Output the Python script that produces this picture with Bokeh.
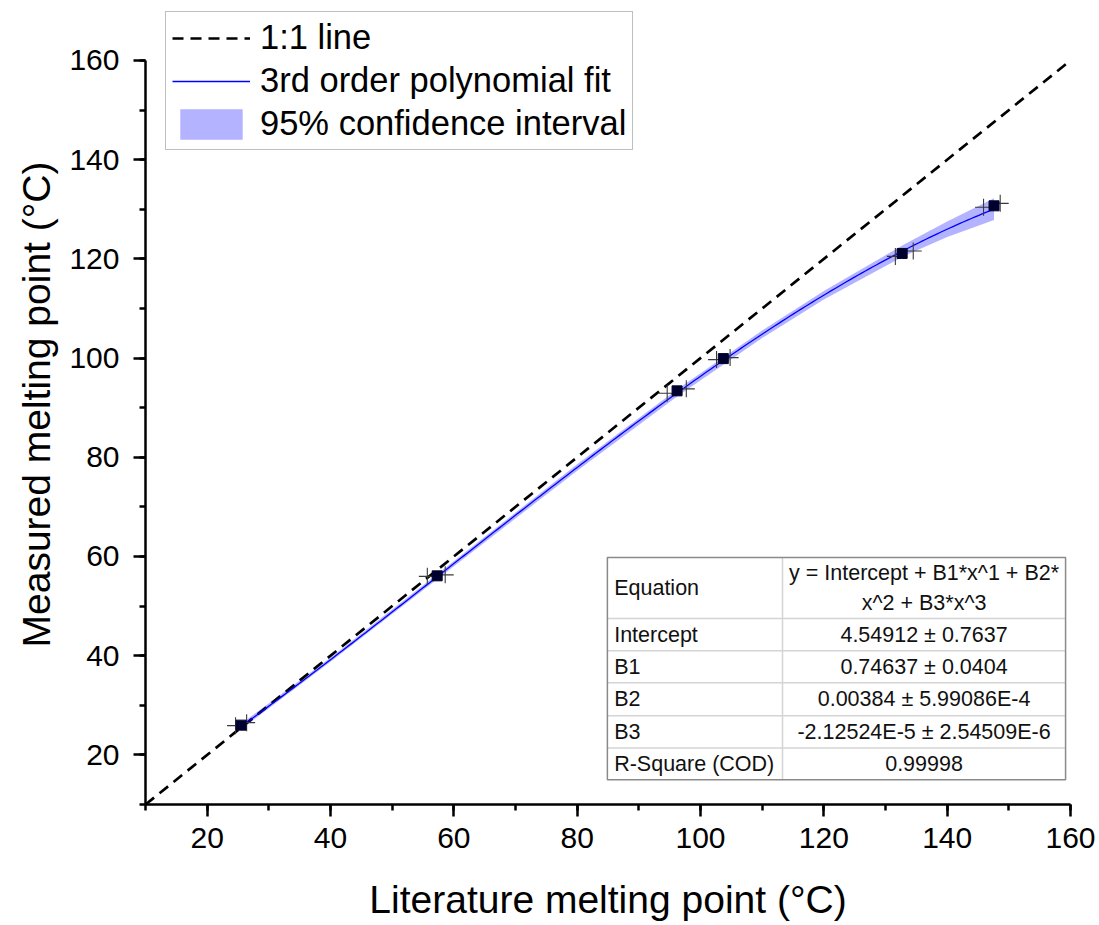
import numpy as np
from bokeh.plotting import figure
from bokeh.models import Legend, LegendItem, Label, Range1d, SingleIntervalTicker
from bokeh.embed import file_html
from bokeh.resources import INLINE

# Melting points: literature vs. measured (°C)
lit_mp = [25.5, 57.3, 96.2, 103.7, 132.7, 147.6]
meas_mp = [26.0, 56.1, 93.4, 99.9, 121.1, 130.7]
# ranges of the individual readings
lit_low = [24.6, 55.7, 94.6, 102.6, 131.6, 145.9]
lit_high = [26.4, 58.6, 97.7, 104.8, 134.5, 148.6]
meas_low = [25.9, 56.0, 92.9, 99.7, 120.5, 130.4]
meas_high = [26.5, 56.3, 93.8, 100.1, 121.6, 131.2]

# 3rd order polynomial fit parameters
fit_names = ["Intercept", "B1", "B2", "B3"]
fit_coef = [4.54912, 0.74637, 0.00384, -2.12524e-5]
fit_err_text = ["4.54912 \u00b1 0.7637", "0.74637 \u00b1 0.0404",
                "0.00384 \u00b1 5.99086E-4", "-2.12524E-5 \u00b1 2.54509E-6"]
r_square = "0.99998"

# half width of the 95% confidence band
band_x = [25.5, 40, 57.3, 80, 96.2, 110, 120, 133, 140, 147.6]
band_half = [0.55, 0.4, 0.5, 0.65, 0.7, 0.75, 0.85, 1.15, 1.55, 2.2]

identity = [10, 160]

FONT = "Liberation Sans"


def poly(x):
    x = np.asarray(x, dtype=float)
    return fit_coef[0] + fit_coef[1] * x + fit_coef[2] * x ** 2 + fit_coef[3] * x ** 3


# frame runs a little above 160 so the legend can sit over the top of the axis
p = figure(width=1099, height=925, output_backend="svg", toolbar_location=None,
           x_range=Range1d(10, 160), y_range=Range1d(10, 171.29),
           min_border_left=145, min_border_right=29, min_border_top=4, min_border_bottom=121)
p.outline_line_color = None
p.xgrid.visible = False
p.ygrid.visible = False
p.background_fill_color = "white"

for ax in (p.xaxis[0], p.yaxis[0]):
    ax.ticker = SingleIntervalTicker(interval=20, num_minor_ticks=2)
    ax.bounds = (10, 160)
    ax.axis_line_width = 2.5
    ax.major_tick_line_width = 2.5
    ax.minor_tick_line_width = 2.5
    ax.major_tick_out = 12
    ax.major_tick_in = 0
    ax.minor_tick_out = 6
    ax.minor_tick_in = 0
    ax.major_label_text_font = FONT
    ax.major_label_text_font_size = "30px"
    ax.major_label_text_color = "black"
    ax.axis_label_text_font = FONT
    ax.axis_label_text_font_size = "39px"
    ax.axis_label_text_font_style = "normal"
    ax.axis_label_text_color = "black"

p.xaxis.axis_label = "Literature melting point (\u00b0C)"
p.yaxis.axis_label = "Measured melting point (\u00b0C)"
p.xaxis.major_label_standoff = 11
p.yaxis.major_label_standoff = 14
p.xaxis.axis_label_standoff = 27
p.yaxis.axis_label_standoff = 8

# confidence band
bx = np.array(band_x)
bh = np.array(band_half)
band = p.varea(x=bx, y1=poly(bx) - bh, y2=poly(bx) + bh, fill_color="#b3b3ff", fill_alpha=1.0)

# 1:1 line
one = p.line(identity, identity, line_color="black", line_width=2.7, line_dash="11 7")

# fitted curve over the data range
fx = np.linspace(min(lit_mp), max(lit_mp), 200)
fit = p.line(fx, poly(fx), line_color="#0000ff", line_width=1.3)

# individual readings and means
p.scatter(lit_low, meas_low, marker="cross", size=17, line_color="#3a3a3a", line_width=1.1)
p.scatter(lit_high, meas_high, marker="cross", size=17, line_color="#3a3a3a", line_width=1.1)
p.scatter(lit_mp, meas_mp, marker="square", size=10, fill_color="#00002e", line_color="#00002e")

legend = Legend(items=[
    LegendItem(label="1:1 line", renderers=[one]),
    LegendItem(label="3rd order polynomial fit", renderers=[fit]),
    LegendItem(label="95% confidence interval", renderers=[band]),
], location=(20, 654))
legend.label_text_font = FONT
legend.label_text_font_size = "34.5px"
legend.label_text_color = "black"
legend.glyph_width = 78
legend.glyph_height = 38
legend.label_height = 38
legend.label_standoff = 10
legend.spacing = 4
legend.padding = 6
legend.margin = 0
legend.border_line_color = "#7f7f7f"
legend.border_line_width = 1.2
legend.background_fill_color = "white"
legend.background_fill_alpha = 1.0
p.add_layout(legend, "center")

# parameter table (data coordinates of its cell edges)
tx0, tx1, tx2 = 84.9, 113.3, 159.2
row_edges = [59.8, 47.5, 41.0, 34.55, 27.9, 21.4, 15.0]
p.quad(left=tx0, right=tx2, top=row_edges[0], bottom=row_edges[-1],
       fill_color="white", line_color=None)
p.segment(x0=[tx0] * 5, x1=[tx2] * 5, y0=row_edges[1:-1], y1=row_edges[1:-1],
          line_color="#d4d4d4", line_width=1.5)
p.segment(x0=[tx1], x1=[tx1], y0=[row_edges[0]], y1=[row_edges[-1]],
          line_color="#d4d4d4", line_width=1.5)
p.quad(left=tx0, right=tx2, top=row_edges[0], bottom=row_edges[-1],
       fill_color=None, line_color="#8a8a8a", line_width=1.5)

left_text = ["Equation"] + fit_names + ["R-Square (COD)"]
right_text = [None] + fit_err_text + [r_square]
for i, txt in enumerate(left_text):
    yc = 0.5 * (row_edges[i] + row_edges[i + 1])
    p.add_layout(Label(x=tx0 + 1.1, y=yc, text=txt, text_font=FONT, text_font_size="21.5px",
                       text_baseline="middle", text_align="left", text_color="#111111"))
    if right_text[i] is not None:
        p.add_layout(Label(x=0.5 * (tx1 + tx2), y=yc, text=right_text[i], text_font=FONT,
                           text_font_size="21.5px", text_baseline="middle", text_align="center",
                           text_color="#111111"))
eq_lines = ["y = Intercept + B1*x^1 + B2*", "x^2 + B3*x^3"]
yc0 = 0.5 * (row_edges[0] + row_edges[1])
for k, txt in enumerate(eq_lines):
    p.add_layout(Label(x=0.5 * (tx1 + tx2), y=yc0 + (1 - 2 * k) * 3.0, text=txt, text_font=FONT,
                       text_font_size="21.5px", text_baseline="middle", text_align="center",
                       text_color="#111111"))

open("out.html", "w").write(file_html(p, INLINE))
